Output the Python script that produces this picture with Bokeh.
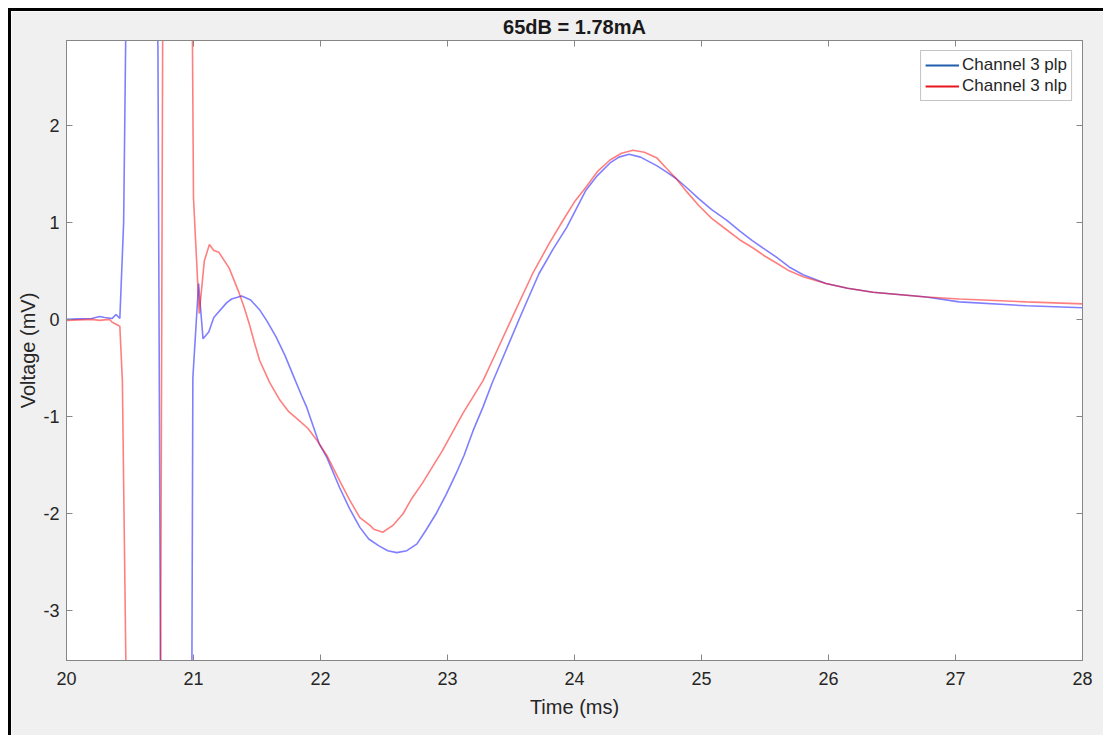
from bokeh.plotting import figure
from bokeh.models import LinearAxis, Legend, LegendItem, FixedTicker, Range1d
from bokeh.embed import file_html
from bokeh.resources import INLINE

title_text = "65dB = 1.78mA"
series_names = ["Channel 3 plp", "Channel 3 nlp"]
x_ticks = [20, 21, 22, 23, 24, 25, 26, 27, 28]
y_ticks = [-3, -2, -1, 0, 1, 2]

time_plp = [20.00, 20.10, 20.20, 20.26, 20.30, 20.36, 20.39, 20.42, 20.45, 20.48,
            20.55, 20.65, 20.72, 20.74, 20.80, 20.90, 20.985, 20.995, 21.04, 21.075,
            21.12, 21.16, 21.26, 21.30, 21.38, 21.45, 21.52, 21.58, 21.65, 21.72,
            21.78, 21.85, 21.89, 21.99, 22.05, 22.15, 22.23, 22.31, 22.38, 22.46,
            22.53, 22.60, 22.68, 22.76, 22.83, 22.91, 22.99, 23.07, 23.13, 23.20,
            23.28, 23.35, 23.46, 23.58, 23.72, 23.83, 23.94, 24.09, 24.18, 24.28,
            24.35, 24.43, 24.52, 24.65, 24.72, 24.80, 24.88, 24.98, 25.08, 25.20,
            25.30, 25.40, 25.50, 25.59, 25.69, 25.80, 25.98, 26.15, 26.35, 26.77,
            27.03, 27.56, 28.00]
volt_plp = [0.00, 0.005, 0.01, 0.03, 0.02, 0.01, 0.05, 0.01, 1.00, 4.5,
            7.0, 6.0, 2.8, -3.6, -7.0, -6.5, -4.5, -0.6, 0.37, -0.20,
            -0.13, 0.02, 0.17, 0.21, 0.24, 0.20, 0.10, -0.02, -0.18, -0.37,
            -0.56, -0.78, -0.90, -1.28, -1.42, -1.73, -1.95, -2.14, -2.26, -2.33,
            -2.38, -2.40, -2.38, -2.31, -2.17, -2.00, -1.80, -1.58, -1.40, -1.15,
            -0.90, -0.66, -0.32, 0.05, 0.47, 0.72, 0.95, 1.33, 1.48, 1.61,
            1.67, 1.70, 1.67, 1.58, 1.52, 1.45, 1.36, 1.24, 1.13, 1.02,
            0.91, 0.81, 0.72, 0.64, 0.54, 0.46, 0.37, 0.32, 0.28, 0.23,
            0.18, 0.14, 0.12]

time_nlp = [20.00, 20.10, 20.20, 20.26, 20.34, 20.36, 20.42, 20.44, 20.47, 20.55,
            20.65, 20.74, 20.76, 20.85, 20.95, 20.99, 21.00, 21.045, 21.085, 21.125,
            21.16, 21.20, 21.28, 21.36, 21.40, 21.44, 21.48, 21.52, 21.60, 21.68,
            21.75, 21.83, 21.90, 21.97, 22.05, 22.15, 22.23, 22.31, 22.39, 22.42,
            22.49, 22.57, 22.65, 22.72, 22.80, 22.88, 22.96, 23.04, 23.12, 23.20,
            23.28, 23.39, 23.52, 23.67, 23.80, 23.91, 24.00, 24.09, 24.18, 24.28,
            24.37, 24.46, 24.55, 24.65, 24.72, 24.80, 24.88, 24.98, 25.08, 25.20,
            25.30, 25.40, 25.50, 25.59, 25.69, 25.80, 25.98, 26.15, 26.35, 26.77,
            27.03, 27.56, 28.00]
volt_nlp = [-0.01, -0.005, 0.00, -0.01, 0.00, -0.03, -0.07, -0.63, -3.8, -7.0,
            -6.5, -4.0, 4.0, 7.0, 6.0, 3.2, 1.25, 0.06, 0.60, 0.77,
            0.71, 0.69, 0.53, 0.27, 0.12, -0.05, -0.24, -0.42, -0.65, -0.83,
            -0.95, -1.04, -1.12, -1.24, -1.40, -1.66, -1.86, -2.04, -2.12, -2.16,
            -2.19, -2.12, -2.00, -1.84, -1.69, -1.52, -1.35, -1.16, -0.97, -0.80,
            -0.63, -0.32, 0.05, 0.47, 0.78, 1.02, 1.21, 1.36, 1.52, 1.64,
            1.71, 1.74, 1.72, 1.66, 1.56, 1.45, 1.32, 1.17, 1.04, 0.92,
            0.82, 0.74, 0.65, 0.58, 0.50, 0.44, 0.37, 0.32, 0.28, 0.23,
            0.21, 0.18, 0.16]

FONT = "Liberation Sans"
TXT = "#262626"
AX = "#868686"

p = figure(frame_width=1016, frame_height=620,
           min_border_left=55, min_border_right=21, min_border_top=29, min_border_bottom=75,
           x_range=Range1d(20, 28), y_range=Range1d(-3.51, 2.87),
           output_backend="svg", toolbar_location=None,
           background_fill_color="white", border_fill_color="#f0f0f0")
p.margin = (8, 0, 0, 8)
p.styles = {"border-left": "3px solid black", "border-top": "3px solid black"}

p.title.text = title_text
p.title.align = "center"
p.title.text_font = FONT
p.title.text_font_size = "20px"
p.title.text_font_style = "bold"
p.title.text_color = "#1a1a1a"
p.title.offset = 0
p.title.standoff = 5

p.grid.visible = False
p.outline_line_color = AX
p.outline_line_width = 1

p.xaxis.axis_label = "Time (ms)"
p.yaxis.axis_label = "Voltage (mV)"
p.xaxis.ticker = FixedTicker(ticks=x_ticks)
p.yaxis.ticker = FixedTicker(ticks=y_ticks)
p.yaxis.major_label_overrides = {t: str(t) for t in y_ticks}
for ax in [p.xaxis[0], p.yaxis[0]]:
    ax.major_tick_in = 6
    ax.major_tick_out = 0
    ax.minor_tick_line_color = None
    ax.axis_line_color = AX
    ax.major_tick_line_color = AX
    ax.major_label_text_font = FONT
    ax.major_label_text_font_size = "18px"
    ax.major_label_text_color = TXT
    ax.axis_label_text_font = FONT
    ax.axis_label_text_font_size = "20px"
    ax.axis_label_text_color = TXT
    ax.axis_label_text_font_style = "normal"
p.xaxis.major_label_standoff = 11
p.yaxis.major_label_standoff = 7
p.xaxis.axis_label_standoff = 8
p.yaxis.axis_label_standoff = 1

top_ax = LinearAxis(ticker=FixedTicker(ticks=x_ticks), major_tick_in=6, major_tick_out=0,
                    minor_tick_line_color=None, axis_line_color=AX, major_tick_line_color=AX,
                    major_label_overrides={t: "" for t in x_ticks}, major_label_standoff=0)
right_ax = LinearAxis(ticker=FixedTicker(ticks=y_ticks), major_tick_in=6, major_tick_out=0,
                      minor_tick_line_color=None, axis_line_color=AX, major_tick_line_color=AX,
                      major_label_overrides={t: "" for t in y_ticks}, major_label_standoff=0)
p.add_layout(top_ax, "above")
p.add_layout(right_ax, "right")

p.line(time_plp, volt_plp, line_color="blue", line_alpha=0.5, line_width=1.6)
p.line(time_nlp, volt_nlp, line_color="red", line_alpha=0.5, line_width=1.6)

# legend-only renderers placed outside the visible range
leg_plp = p.line([10, 11], [0, 0], line_color="#1f5fae", line_width=2)
leg_nlp = p.line([10, 11], [0, 0], line_color="#e8161c", line_width=2)

legend = Legend(items=[LegendItem(label=series_names[0], renderers=[leg_plp]),
                       LegendItem(label=series_names[1], renderers=[leg_nlp])],
                location="top_right", label_text_font=FONT, label_text_font_size="17px",
                label_text_color=TXT, glyph_width=34, glyph_height=20, label_height=20,
                spacing=1, padding=4, label_standoff=3, border_line_color="#8a8a8a",
                background_fill_color="white", background_fill_alpha=1.0, margin=10)
p.add_layout(legend)

open("out.html", "w").write(file_html(p, INLINE))
